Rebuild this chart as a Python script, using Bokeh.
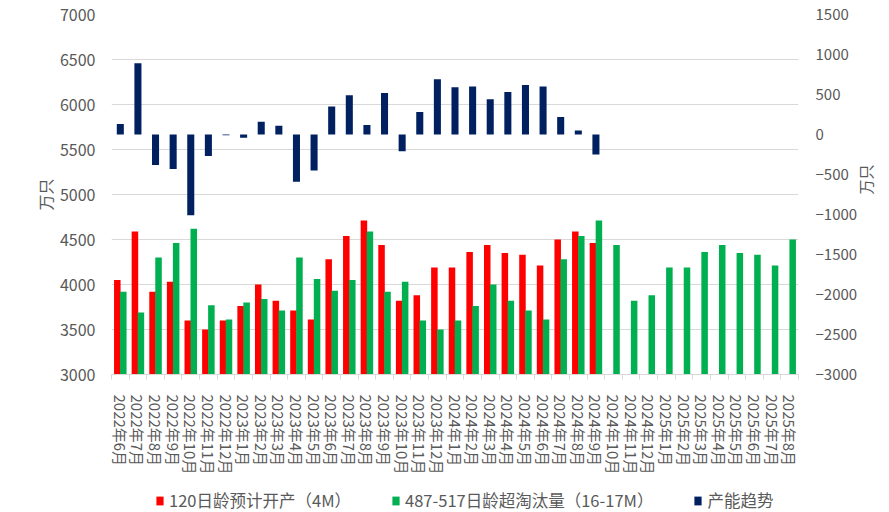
import math
from bokeh.plotting import figure
from bokeh.layouts import column
from bokeh.models import (Range1d, LinearAxis, FixedTicker, Legend, LegendItem,
                          ColumnDataSource)
from bokeh.transform import dodge
from bokeh.embed import file_html
from bokeh.resources import INLINE

months = ["2022年6月", "2022年7月", "2022年8月", "2022年9月", "2022年10月", "2022年11月",
          "2022年12月", "2023年1月", "2023年2月", "2023年3月", "2023年4月", "2023年5月",
          "2023年6月", "2023年7月", "2023年8月", "2023年9月", "2023年10月", "2023年11月",
          "2023年12月", "2024年1月", "2024年2月", "2024年3月", "2024年4月", "2024年5月",
          "2024年6月", "2024年7月", "2024年8月", "2024年9月", "2024年10月", "2024年11月",
          "2024年12月", "2025年1月", "2025年2月", "2025年3月", "2025年4月", "2025年5月",
          "2025年6月", "2025年7月", "2025年8月"]

# 120日龄预计开产（4M）, through 2024年9月
open_4m = [4050, 4590, 3920, 4030, 3600, 3500, 3600, 3760, 4000, 3820, 3710, 3610,
           4280, 4540, 4710, 4440, 3820, 3880, 4190, 4190, 4360, 4440, 4350, 4330,
           4210, 4500, 4590, 4460]

# 487-517日龄超淘汰量（16-17M）, through 2025年8月
cull_16m = [3920, 3690, 4300, 4460, 4620, 3770, 3610, 3800, 3840, 3710, 4300, 4060,
            3930, 4050, 4590, 3920, 4030, 3600, 3500, 3600, 3760, 4000, 3820, 3710,
            3610, 4280, 4540, 4710, 4440, 3820, 3880, 4190, 4190, 4360, 4440, 4350,
            4330, 4210, 4500]

# 产能趋势 (right axis), through 2024年9月
trend = [130, 890, -380, -430, -1010, -270, -10, -40, 160, 110, -590, -450,
         350, 490, 120, 520, -210, 280, 690, 590, 600, 440, 530, 620,
         600, 220, 50, -250]

left_ticks = [3000, 3500, 4000, 4500, 5000, 5500, 6000, 6500, 7000]
right_ticks = [-3000, -2500, -2000, -1500, -1000, -500, 0, 500, 1000, 1500]

labels = ["120日龄预计开产（4M）", "487-517日龄超淘汰量（16-17M）", "产能趋势"]
colors = ["#FF0000", "#00B050", "#002060"]

FONT = "Noto Sans CJK SC"
TXT = "#595959"
GRID = "#d9d9d9"

n = len(months)
p = figure(width=889, height=484, output_backend="svg", toolbar_location=None,
           x_range=Range1d(-0.5, n - 0.5), y_range=Range1d(left_ticks[0], left_ticks[-1]),
           min_border_left=111, min_border_right=89, min_border_top=14,
           min_border_bottom=110, outline_line_color=None, background_fill_color="white")

p.extra_y_ranges = {"trend": Range1d(right_ticks[0], right_ticks[-1])}

src_open = ColumnDataSource(dict(x=list(range(len(open_4m))), y=open_4m))
src_cull = ColumnDataSource(dict(x=list(range(len(cull_16m))), y=cull_16m))
src_trend = ColumnDataSource(dict(x=list(range(len(trend))), y=trend))


def draw_bars(fig, **kw):
    a = fig.vbar(x=dodge("x", -0.17), top="y", bottom=left_ticks[0], width=0.37,
                 fill_color=colors[0], line_color=None, source=src_open)
    b = fig.vbar(x=dodge("x", 0.17), top="y", bottom=left_ticks[0], width=0.37,
                 fill_color=colors[1], line_color=None, source=src_cull)
    c = fig.vbar(x="x", top="y", bottom=0, width=0.4, fill_color=colors[2],
                 line_color=None, source=src_trend, **kw)
    return [a, b, c]


draw_bars(p, y_range_name="trend")

# x axis
xa = p.xaxis[0]
xa.ticker = FixedTicker(ticks=list(range(n)), minor_ticks=[i - 0.5 for i in range(n + 1)])
xa.major_label_overrides = {i: m for i, m in enumerate(months)}
xa.major_label_orientation = "vertical"
xa.major_tick_out = 0
xa.major_tick_in = 0
xa.minor_tick_out = 5
xa.minor_tick_in = 0
xa.minor_tick_line_color = GRID
xa.axis_line_color = GRID
xa.axis_line_width = 1
xa.major_label_standoff = 15
xa.major_label_text_font = FONT
xa.major_label_text_font_size = "15px"
xa.major_label_text_color = TXT
p.xgrid.visible = False

# left axis
ya = p.yaxis[0]
ya.ticker = FixedTicker(ticks=left_ticks)
ya.axis_line_color = None
ya.major_tick_line_color = None
ya.minor_tick_line_color = None
ya.major_tick_out = 0
ya.minor_tick_out = 0
ya.major_label_standoff = 16
ya.major_label_text_font = FONT
ya.major_label_text_font_size = "16px"
ya.major_label_text_color = TXT
ya.axis_label = "万只"
ya.axis_label_standoff = 0
ya.axis_label_text_font = FONT
ya.axis_label_text_font_size = "16px"
ya.axis_label_text_font_style = "normal"
ya.axis_label_text_color = TXT
p.ygrid.grid_line_color = GRID
p.ygrid.grid_line_width = 1.2

# right axis
ra = LinearAxis(y_range_name="trend", ticker=FixedTicker(ticks=right_ticks),
                axis_line_color=None, major_tick_line_color=None,
                minor_tick_line_color=None, major_tick_out=0, minor_tick_out=0,
                major_label_standoff=17,
                major_label_text_font=FONT, major_label_text_font_size="15px",
                major_label_text_color=TXT, axis_label="万只", axis_label_standoff=5,
                axis_label_text_font=FONT, axis_label_text_font_size="15px",
                axis_label_text_font_style="normal", axis_label_text_color=TXT)
if "axis_label_orientation" in LinearAxis.properties():
    ra.axis_label_orientation = math.pi / 2
p.add_layout(ra, "right")

# legend strip (separate small figure under the chart; its bars fall outside its range)
lg = figure(width=889, height=28, output_backend="svg", toolbar_location=None,
            x_range=Range1d(-0.5, n - 0.5),
            y_range=Range1d(left_ticks[-1], left_ticks[-1] + 1),
            min_border_left=0, min_border_right=0, min_border_top=0, min_border_bottom=0,
            outline_line_color=None, x_axis_location=None, y_axis_location=None)
lg.xgrid.visible = False
lg.ygrid.visible = False
rs = draw_bars(lg)
legend = Legend(items=[LegendItem(label=lab, renderers=[r]) for lab, r in zip(labels, rs)],
                orientation="horizontal", location=(44, 0),
                label_text_font=FONT, label_text_font_size="16.5px", label_text_color=TXT,
                glyph_width=9, glyph_height=11, label_standoff=5, spacing=40,
                padding=0, margin=0, border_line_color=None, background_fill_alpha=0,
                label_height=16)
lg.add_layout(legend)

open("out.html", "w").write(file_html(column(p, lg, spacing=0), INLINE))
